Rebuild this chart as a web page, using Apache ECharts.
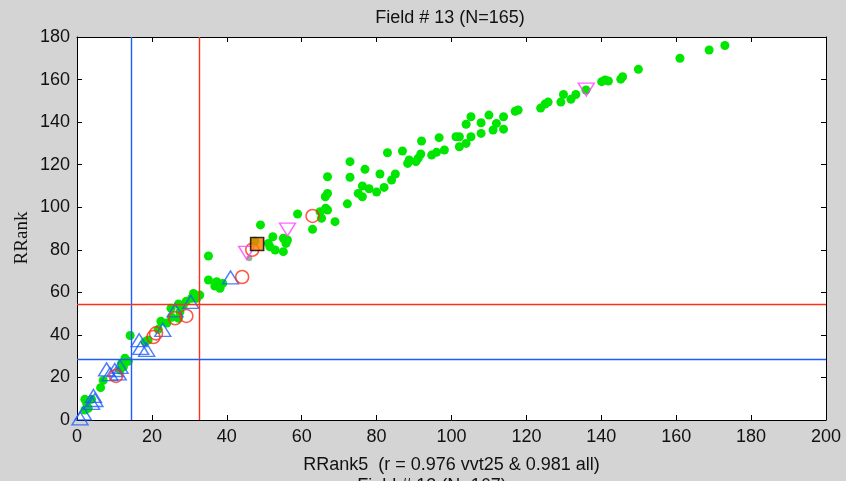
<!DOCTYPE html>
<html><head><meta charset="utf-8">
<script src="https://cdn.jsdelivr.net/npm/echarts@6/dist/echarts.min.js"></script>
<style>html,body{margin:0;padding:0;background:#d4d4d4;}#c{width:846px;height:481px;}</style>
</head><body><div id="c"></div>
<script>
var titleText = 'Field # 13 (N=165)';
var footText = 'Field # 13 (N=167)';
var xName = 'RRank5  (r = 0.976 vvt25 & 0.981 all)';
var yName = 'RRank';
var xTicks = [0,20,40,60,80,100,120,140,160,180,200];
var yTicks = [0,20,40,60,80,100,120,140,160,180];

var greenPts = [
 [2.1,9.7],[2.6,7.8],[3.9,9.7],[3,5.5],[2.1,4.7],[6.3,15.2],[7,18.6],[11.5,23.5],[12.4,25],[11.9,26.6],
 [12.8,29],[13.7,27.6],[14.2,39.7],[18.2,36.8],[19,37.6],[21.7,42.6],[22.4,46.4],[24,45.6],[25.1,52.5],[25.3,48.3],
 [27.1,47.8],[27.5,50.9],[27.1,54.5],[28.4,54],[29.2,55.8],[30.6,57.2],[32,57.2],[31.1,59.5],[32.8,58.7],[35.1,77.1],
 [35.1,65.8],[37.3,65],[38.2,61.9],[36.8,63],[38.9,64.2],
 [47.5,84],[49,91.7],[51.1,83],[51.5,81.4],[52.3,86.1],[52.9,79.9],[55.1,85.4],[55.8,83],[56.2,84.6],[55.1,79.1],
 [58.9,96.8],[62.9,89.6],[64.9,97.9],[65.3,94.8],[66.4,99.5],[66.9,98.7],[68.9,93.2],[66.3,104.9],[66.9,106.5],[66.9,114.3],
 [72.2,101.6],[72.9,114.1],[72.9,121.4],[76.9,117.8],[76.2,110],[75.1,106.5],[76.2,104.9],[78,108.7],[80,107.1],[80.9,115.6],
 [82,109.3],[82.9,125.6],[84,112.8],[85,115.6],[86.9,126.4],[88.3,120.6],[88.7,122.2],[90.5,121.4],[91.1,123],[91.8,125],
 [92,131.1],[94.7,124.5],[96,125.8],[96.7,132.7],[98.1,126.9],[101.2,133.1],[102.1,133.1],[102.1,128.4],[103.9,130],[103.9,139],
 [105.2,142.5],[105.2,133.1],[107.9,139.7],[107.9,134.7],[110,143.3],[111.1,136.3],[112,139.4],[113.9,142.5],[113.9,136.7],
 [117,145.1],[117.8,145.7],[123.8,146.6],[125,148.5],[125.8,149.4],[129.2,149.4],[129.9,153],[131.9,150.7],[133.2,153],[135.9,155.1],
 [140.1,159],[141,159.8],[141.9,159.3],[145.2,160.2],[145.7,161.3],[149.9,164.8],[161,170],[168.8,173.9],[173,176]
];
var bluePts = [
 [0.8,0.8],[1.7,3.1],[3.9,8.1],[4.4,11.3],[4.8,9.4],[7.9,23.8],[8.8,21.6],[10.1,23.5],[11,21.9],[11.5,25],
 [16.6,37.5],[17,33.9],[18.6,33],[22.9,42.4],[26.2,51.5],[30.4,55.5],[41,67]
];
var redPts = [[10.4,20.7],[20.4,39],[21.1,40.7],[26.2,47.8],[29.2,48.9],[44.1,67.2],[46.8,80],[62.9,95.9]];
var magentaPts = [[45.3,78.6],[56.2,89.5],[136,155.3]];
var orangePts = [[48.1,82.7]];
var greyPts = [[46,76]];
var vLines = [{x:14.6,color:'#1f5cff'},{x:32.7,color:'#ff3019'}];
var hLines = [{y:54.5,color:'#ff3019'},{y:28.7,color:'#1f5cff'}];

var chart = echarts.init(document.getElementById('c'), null, {renderer:'canvas'});
var font = '"Liberation Sans", Arial, sans-serif';
var fs = 18;
var gridL=77, gridR=20, gridT=37, gridB=61;
function axisCommon(pos, show){
  return {
    type:'value', position:pos,
    axisLine:{show:true,onZero:false,lineStyle:{color:'#000',width:1}},
    axisTick:{show:true,inside:true,length:5,lineStyle:{color:'#000'}},
    splitLine:{show:false},
    axisLabel:{show:show,color:'#111',fontFamily:font,fontSize:fs}
  };
}
var xa = axisCommon('bottom', true);
xa.min = xTicks[0]; xa.max = xTicks[xTicks.length-1]; xa.interval = xTicks[1]-xTicks[0];
xa.axisLabel.margin = 8;
xa.name = xName; xa.nameLocation='middle'; xa.nameGap=36;
xa.nameTextStyle = {color:'#111',fontFamily:font,fontSize:fs};
var xa2 = axisCommon('top', false);
xa2.min = xa.min; xa2.max = xa.max; xa2.interval = xa.interval;
var ya = axisCommon('left', true);
ya.min = yTicks[0]; ya.max = yTicks[yTicks.length-1]; ya.interval = yTicks[1]-yTicks[0];
ya.axisLabel.margin = 7;
var ya2 = axisCommon('right', false);
ya2.min = ya.min; ya2.max = ya.max; ya2.interval = ya.interval;

var lineData = [];
vLines.forEach(function(l){ lineData.push({xAxis:l.x, lineStyle:{color:l.color}}); });
hLines.forEach(function(l){ lineData.push({yAxis:l.y, lineStyle:{color:l.color}}); });

var option = {
  backgroundColor:'#d4d4d4',
  animation:false,
  grid:{left:gridL,right:gridR,top:gridT,bottom:gridB,show:true,backgroundColor:'#fff',borderWidth:0},
  xAxis:[xa, xa2],
  yAxis:[ya, ya2],
  graphic:[
    {type:'text', x:450, y:9, style:{text:titleText, textAlign:'center', textVerticalAlign:'top', fill:'#111', font:fs+'px '+font}},
    {type:'text', x:432, y:477, style:{text:footText, textAlign:'center', textVerticalAlign:'top', fill:'#111', font:fs+'px '+font}},
    {type:'text', x:22, y:238, rotation:Math.PI/2, style:{text:yName, textAlign:'center', textVerticalAlign:'middle', fill:'#111', font:'19px "Liberation Serif","DejaVu Serif",serif'}}
  ],
  series:[
    {type:'scatter', data:greenPts, symbol:'circle', symbolSize:9, itemStyle:{color:'#00e600',opacity:1}, z:2,
     markLine:{silent:true, symbol:['none','none'], label:{show:false}, lineStyle:{type:'solid',width:1.4}, data:lineData}},
    {type:'scatter', data:greyPts, symbol:'circle', symbolSize:6, itemStyle:{color:'#7aa07a'}, z:3},
    {type:'scatter', data:bluePts, symbol:'triangle', symbolSize:[16,13], itemStyle:{color:'rgba(0,0,0,0)',borderColor:'#1f5cff',borderWidth:1.4}, z:4},
    {type:'scatter', data:redPts, symbol:'circle', symbolSize:13, itemStyle:{color:'rgba(0,0,0,0)',borderColor:'#ff3019',borderWidth:1.6}, z:5},
    {type:'scatter', data:magentaPts, symbol:'triangle', symbolRotate:180, symbolSize:[16,13], itemStyle:{color:'rgba(0,0,0,0)',borderColor:'#ff40ff',borderWidth:1.4}, z:6},
    {type:'scatter', data:orangePts, symbol:'rect', symbolSize:13, itemStyle:{color:'#ff7f00',borderColor:'#000',borderWidth:1.6}, z:7}
  ]
};
chart.setOption(option);
</script></body></html>
